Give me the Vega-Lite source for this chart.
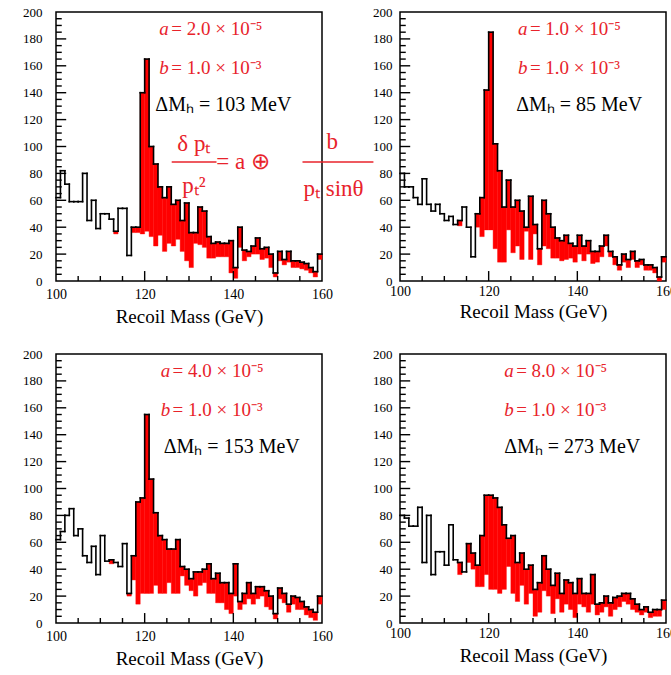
{
"$schema":"https://vega.github.io/schema/vega-lite/v6.json",
"background":"white",
"padding":{"left":21,"top":5,"right":0,"bottom":0},
"bounds":"flush",
"columns":2,
"spacing":{"row":73,"column":78},
"datasets":{
"h":[
{"p":1,"lo":100,"hi":101,"t":62,"b":62},{"p":1,"lo":101,"hi":102,"t":82,"b":82},{"p":1,"lo":102,"hi":103,"t":72,"b":72},{"p":1,"lo":103,"hi":104,"t":59,"b":59},{"p":1,"lo":104,"hi":105,"t":59,"b":59},{"p":1,"lo":105,"hi":106,"t":59,"b":59},{"p":1,"lo":106,"hi":107,"t":80,"b":80},{"p":1,"lo":107,"hi":108,"t":45,"b":45},{"p":1,"lo":108,"hi":109,"t":60,"b":60},{"p":1,"lo":109,"hi":110,"t":39,"b":39},
{"p":1,"lo":110,"hi":111,"t":50,"b":50},{"p":1,"lo":111,"hi":112,"t":50,"b":50},{"p":1,"lo":112,"hi":113,"t":46,"b":46},{"p":1,"lo":113,"hi":114,"t":37,"b":35},{"p":1,"lo":114,"hi":115,"t":54,"b":54},{"p":1,"lo":115,"hi":116,"t":54,"b":54},{"p":1,"lo":116,"hi":117,"t":19,"b":19},{"p":1,"lo":117,"hi":118,"t":40,"b":36},{"p":1,"lo":118,"hi":119,"t":40,"b":36},{"p":1,"lo":119,"hi":120,"t":140,"b":35},
{"p":1,"lo":120,"hi":121,"t":165,"b":37},{"p":1,"lo":121,"hi":122,"t":100,"b":33},{"p":1,"lo":122,"hi":123,"t":87,"b":26},{"p":1,"lo":123,"hi":124,"t":70,"b":34},{"p":1,"lo":124,"hi":125,"t":62,"b":22},{"p":1,"lo":125,"hi":126,"t":70,"b":28},{"p":1,"lo":126,"hi":127,"t":57,"b":26},{"p":1,"lo":127,"hi":128,"t":60,"b":31},{"p":1,"lo":128,"hi":129,"t":45,"b":22},{"p":1,"lo":129,"hi":130,"t":58,"b":15},
{"p":1,"lo":130,"hi":131,"t":36,"b":10},{"p":1,"lo":131,"hi":132,"t":36,"b":28},{"p":1,"lo":132,"hi":133,"t":55,"b":27},{"p":1,"lo":133,"hi":134,"t":52,"b":25},{"p":1,"lo":134,"hi":135,"t":33,"b":17},{"p":1,"lo":135,"hi":136,"t":28,"b":17},{"p":1,"lo":136,"hi":137,"t":29,"b":18},{"p":1,"lo":137,"hi":138,"t":28,"b":18},{"p":1,"lo":138,"hi":139,"t":28,"b":18},{"p":1,"lo":139,"hi":140,"t":30,"b":6},
{"p":1,"lo":140,"hi":141,"t":10,"b":2},{"p":1,"lo":141,"hi":142,"t":40,"b":25},{"p":1,"lo":142,"hi":143,"t":23,"b":15},{"p":1,"lo":143,"hi":144,"t":22,"b":18},{"p":1,"lo":144,"hi":145,"t":26,"b":20},{"p":1,"lo":145,"hi":146,"t":32,"b":20},{"p":1,"lo":146,"hi":147,"t":24,"b":16},{"p":1,"lo":147,"hi":148,"t":25,"b":17},{"p":1,"lo":148,"hi":149,"t":20,"b":10},{"p":1,"lo":149,"hi":150,"t":6,"b":3},
{"p":1,"lo":150,"hi":151,"t":22,"b":15},{"p":1,"lo":151,"hi":152,"t":16,"b":12},{"p":1,"lo":152,"hi":153,"t":22,"b":14},{"p":1,"lo":153,"hi":154,"t":15,"b":10},{"p":1,"lo":154,"hi":155,"t":15,"b":10},{"p":1,"lo":155,"hi":156,"t":14,"b":9},{"p":1,"lo":156,"hi":157,"t":13,"b":8},{"p":1,"lo":157,"hi":158,"t":10,"b":6},{"p":1,"lo":158,"hi":159,"t":7,"b":3},{"p":1,"lo":159,"hi":160,"t":20,"b":16},

{"p":2,"lo":100,"hi":101,"t":80,"b":80},{"p":2,"lo":101,"hi":102,"t":70,"b":70},{"p":2,"lo":102,"hi":103,"t":70,"b":70},{"p":2,"lo":103,"hi":104,"t":62,"b":62},{"p":2,"lo":104,"hi":105,"t":57,"b":57},{"p":2,"lo":105,"hi":106,"t":76,"b":76},{"p":2,"lo":106,"hi":107,"t":57,"b":57},{"p":2,"lo":107,"hi":108,"t":52,"b":52},{"p":2,"lo":108,"hi":109,"t":57,"b":57},{"p":2,"lo":109,"hi":110,"t":50,"b":50},
{"p":2,"lo":110,"hi":111,"t":45,"b":45},{"p":2,"lo":111,"hi":112,"t":48,"b":48},{"p":2,"lo":112,"hi":113,"t":42,"b":42},{"p":2,"lo":113,"hi":114,"t":45,"b":41},{"p":2,"lo":114,"hi":115,"t":55,"b":55},{"p":2,"lo":115,"hi":116,"t":40,"b":40},{"p":2,"lo":116,"hi":117,"t":18,"b":18},{"p":2,"lo":117,"hi":118,"t":50,"b":40},{"p":2,"lo":118,"hi":119,"t":62,"b":33},{"p":2,"lo":119,"hi":120,"t":142,"b":38},
{"p":2,"lo":120,"hi":121,"t":185,"b":38},{"p":2,"lo":121,"hi":122,"t":102,"b":24},{"p":2,"lo":122,"hi":123,"t":82,"b":14},{"p":2,"lo":123,"hi":124,"t":55,"b":14},{"p":2,"lo":124,"hi":125,"t":75,"b":38},{"p":2,"lo":125,"hi":126,"t":55,"b":21},{"p":2,"lo":126,"hi":127,"t":60,"b":26},{"p":2,"lo":127,"hi":128,"t":52,"b":16},{"p":2,"lo":128,"hi":129,"t":40,"b":37},{"p":2,"lo":129,"hi":130,"t":63,"b":16},
{"p":2,"lo":130,"hi":131,"t":42,"b":35},{"p":2,"lo":131,"hi":132,"t":24,"b":12},{"p":2,"lo":132,"hi":133,"t":60,"b":26},{"p":2,"lo":133,"hi":134,"t":50,"b":24},{"p":2,"lo":134,"hi":135,"t":40,"b":17},{"p":2,"lo":135,"hi":136,"t":32,"b":17},{"p":2,"lo":136,"hi":137,"t":30,"b":15},{"p":2,"lo":137,"hi":138,"t":34,"b":16},{"p":2,"lo":138,"hi":139,"t":28,"b":17},{"p":2,"lo":139,"hi":140,"t":26,"b":14},
{"p":2,"lo":140,"hi":141,"t":34,"b":20},{"p":2,"lo":141,"hi":142,"t":26,"b":15},{"p":2,"lo":142,"hi":143,"t":30,"b":20},{"p":2,"lo":143,"hi":144,"t":22,"b":13},{"p":2,"lo":144,"hi":145,"t":22,"b":14},{"p":2,"lo":145,"hi":146,"t":26,"b":18},{"p":2,"lo":146,"hi":147,"t":34,"b":26},{"p":2,"lo":147,"hi":148,"t":22,"b":18},{"p":2,"lo":148,"hi":149,"t":18,"b":12},{"p":2,"lo":149,"hi":150,"t":12,"b":8},
{"p":2,"lo":150,"hi":151,"t":20,"b":14},{"p":2,"lo":151,"hi":152,"t":16,"b":10},{"p":2,"lo":152,"hi":153,"t":22,"b":16},{"p":2,"lo":153,"hi":154,"t":15,"b":10},{"p":2,"lo":154,"hi":155,"t":16,"b":12},{"p":2,"lo":155,"hi":156,"t":12,"b":8},{"p":2,"lo":156,"hi":157,"t":12,"b":8},{"p":2,"lo":157,"hi":158,"t":10,"b":6},{"p":2,"lo":158,"hi":159,"t":3,"b":0},{"p":2,"lo":159,"hi":160,"t":18,"b":14},

{"p":3,"lo":100,"hi":101,"t":62,"b":62},{"p":3,"lo":101,"hi":102,"t":68,"b":68},{"p":3,"lo":102,"hi":103,"t":80,"b":80},{"p":3,"lo":103,"hi":104,"t":85,"b":85},{"p":3,"lo":104,"hi":105,"t":65,"b":65},{"p":3,"lo":105,"hi":106,"t":70,"b":70},{"p":3,"lo":106,"hi":107,"t":50,"b":50},{"p":3,"lo":107,"hi":108,"t":45,"b":45},{"p":3,"lo":108,"hi":109,"t":57,"b":57},{"p":3,"lo":109,"hi":110,"t":36,"b":36},
{"p":3,"lo":110,"hi":111,"t":65,"b":65},{"p":3,"lo":111,"hi":112,"t":46,"b":46},{"p":3,"lo":112,"hi":113,"t":47,"b":44},{"p":3,"lo":113,"hi":114,"t":45,"b":45},{"p":3,"lo":114,"hi":115,"t":42,"b":42},{"p":3,"lo":115,"hi":116,"t":59,"b":59},{"p":3,"lo":116,"hi":117,"t":22,"b":20},{"p":3,"lo":117,"hi":118,"t":50,"b":32},{"p":3,"lo":118,"hi":119,"t":90,"b":14},{"p":3,"lo":119,"hi":120,"t":93,"b":22},
{"p":3,"lo":120,"hi":121,"t":155,"b":22},{"p":3,"lo":121,"hi":122,"t":107,"b":22},{"p":3,"lo":122,"hi":123,"t":82,"b":28},{"p":3,"lo":123,"hi":124,"t":65,"b":22},{"p":3,"lo":124,"hi":125,"t":62,"b":22},{"p":3,"lo":125,"hi":126,"t":55,"b":30},{"p":3,"lo":126,"hi":127,"t":55,"b":22},{"p":3,"lo":127,"hi":128,"t":62,"b":22},{"p":3,"lo":128,"hi":129,"t":42,"b":35},{"p":3,"lo":129,"hi":130,"t":40,"b":28},
{"p":3,"lo":130,"hi":131,"t":33,"b":24},{"p":3,"lo":131,"hi":132,"t":38,"b":20},{"p":3,"lo":132,"hi":133,"t":38,"b":28},{"p":3,"lo":133,"hi":134,"t":40,"b":30},{"p":3,"lo":134,"hi":135,"t":44,"b":22},{"p":3,"lo":135,"hi":136,"t":33,"b":22},{"p":3,"lo":136,"hi":137,"t":37,"b":15},{"p":3,"lo":137,"hi":138,"t":30,"b":15},{"p":3,"lo":138,"hi":139,"t":30,"b":10},{"p":3,"lo":139,"hi":140,"t":22,"b":7},
{"p":3,"lo":140,"hi":141,"t":44,"b":20},{"p":3,"lo":141,"hi":142,"t":16,"b":10},{"p":3,"lo":142,"hi":143,"t":22,"b":14},{"p":3,"lo":143,"hi":144,"t":30,"b":18},{"p":3,"lo":144,"hi":145,"t":22,"b":14},{"p":3,"lo":145,"hi":146,"t":27,"b":18},{"p":3,"lo":146,"hi":147,"t":27,"b":20},{"p":3,"lo":147,"hi":148,"t":24,"b":12},{"p":3,"lo":148,"hi":149,"t":20,"b":10},{"p":3,"lo":149,"hi":150,"t":7,"b":3},
{"p":3,"lo":150,"hi":151,"t":26,"b":18},{"p":3,"lo":151,"hi":152,"t":22,"b":15},{"p":3,"lo":152,"hi":153,"t":14,"b":8},{"p":3,"lo":153,"hi":154,"t":20,"b":14},{"p":3,"lo":154,"hi":155,"t":19,"b":10},{"p":3,"lo":155,"hi":156,"t":16,"b":10},{"p":3,"lo":156,"hi":157,"t":12,"b":6},{"p":3,"lo":157,"hi":158,"t":10,"b":4},{"p":3,"lo":158,"hi":159,"t":8,"b":2},{"p":3,"lo":159,"hi":160,"t":20,"b":14},

{"p":4,"lo":100,"hi":101,"t":80,"b":80},{"p":4,"lo":101,"hi":102,"t":78,"b":78},{"p":4,"lo":102,"hi":103,"t":72,"b":72},{"p":4,"lo":103,"hi":104,"t":72,"b":72},{"p":4,"lo":104,"hi":105,"t":86,"b":86},{"p":4,"lo":105,"hi":106,"t":45,"b":45},{"p":4,"lo":106,"hi":107,"t":80,"b":80},{"p":4,"lo":107,"hi":108,"t":36,"b":36},{"p":4,"lo":108,"hi":109,"t":53,"b":53},{"p":4,"lo":109,"hi":110,"t":53,"b":53},
{"p":4,"lo":110,"hi":111,"t":43,"b":43},{"p":4,"lo":111,"hi":112,"t":73,"b":73},{"p":4,"lo":112,"hi":113,"t":47,"b":47},{"p":4,"lo":113,"hi":114,"t":45,"b":36},{"p":4,"lo":114,"hi":115,"t":38,"b":38},{"p":4,"lo":115,"hi":116,"t":59,"b":45},{"p":4,"lo":116,"hi":117,"t":52,"b":40},{"p":4,"lo":117,"hi":118,"t":43,"b":27},{"p":4,"lo":118,"hi":119,"t":65,"b":27},{"p":4,"lo":119,"hi":120,"t":95,"b":36},
{"p":4,"lo":120,"hi":121,"t":95,"b":25},{"p":4,"lo":121,"hi":122,"t":93,"b":25},{"p":4,"lo":122,"hi":123,"t":86,"b":22},{"p":4,"lo":123,"hi":124,"t":73,"b":25},{"p":4,"lo":124,"hi":125,"t":63,"b":42},{"p":4,"lo":125,"hi":126,"t":65,"b":22},{"p":4,"lo":126,"hi":127,"t":45,"b":16},{"p":4,"lo":127,"hi":128,"t":52,"b":28},{"p":4,"lo":128,"hi":129,"t":40,"b":14},{"p":4,"lo":129,"hi":130,"t":43,"b":22},
{"p":4,"lo":130,"hi":131,"t":25,"b":5},{"p":4,"lo":131,"hi":132,"t":30,"b":8},{"p":4,"lo":132,"hi":133,"t":50,"b":24},{"p":4,"lo":133,"hi":134,"t":40,"b":20},{"p":4,"lo":134,"hi":135,"t":28,"b":7},{"p":4,"lo":135,"hi":136,"t":37,"b":18},{"p":4,"lo":136,"hi":137,"t":22,"b":8},{"p":4,"lo":137,"hi":138,"t":32,"b":14},{"p":4,"lo":138,"hi":139,"t":30,"b":10},{"p":4,"lo":139,"hi":140,"t":22,"b":4},
{"p":4,"lo":140,"hi":141,"t":33,"b":14},{"p":4,"lo":141,"hi":142,"t":22,"b":12},{"p":4,"lo":142,"hi":143,"t":22,"b":8},{"p":4,"lo":143,"hi":144,"t":36,"b":14},{"p":4,"lo":144,"hi":145,"t":14,"b":6},{"p":4,"lo":145,"hi":146,"t":15,"b":8},{"p":4,"lo":146,"hi":147,"t":20,"b":12},{"p":4,"lo":147,"hi":148,"t":15,"b":5},{"p":4,"lo":148,"hi":149,"t":19,"b":10},{"p":4,"lo":149,"hi":150,"t":20,"b":12},
{"p":4,"lo":150,"hi":151,"t":22,"b":16},{"p":4,"lo":151,"hi":152,"t":22,"b":14},{"p":4,"lo":152,"hi":153,"t":18,"b":10},{"p":4,"lo":153,"hi":154,"t":14,"b":8},{"p":4,"lo":154,"hi":155,"t":10,"b":6},{"p":4,"lo":155,"hi":156,"t":12,"b":8},{"p":4,"lo":156,"hi":157,"t":8,"b":4},{"p":4,"lo":157,"hi":158,"t":10,"b":5},{"p":4,"lo":158,"hi":159,"t":10,"b":5},{"p":4,"lo":159,"hi":160,"t":17,"b":10}
],
"tk":[
{"ax":"x","v":120,"a":0,"e":7.4},{"ax":"x","v":140,"a":0,"e":7.4},
{"ax":"x","v":105,"a":0,"e":3.7},{"ax":"x","v":110,"a":0,"e":3.7},{"ax":"x","v":115,"a":0,"e":3.7},{"ax":"x","v":125,"a":0,"e":3.7},{"ax":"x","v":130,"a":0,"e":3.7},{"ax":"x","v":135,"a":0,"e":3.7},{"ax":"x","v":145,"a":0,"e":3.7},{"ax":"x","v":150,"a":0,"e":3.7},{"ax":"x","v":155,"a":0,"e":3.7},
{"ax":"y","v":20,"a":100,"e":102.3},{"ax":"y","v":40,"a":100,"e":102.3},{"ax":"y","v":60,"a":100,"e":102.3},{"ax":"y","v":80,"a":100,"e":102.3},{"ax":"y","v":100,"a":100,"e":102.3},{"ax":"y","v":120,"a":100,"e":102.3},{"ax":"y","v":140,"a":100,"e":102.3},{"ax":"y","v":160,"a":100,"e":102.3},{"ax":"y","v":180,"a":100,"e":102.3},
{"ax":"y","v":5,"a":100,"e":101.3},{"ax":"y","v":10,"a":100,"e":101.3},{"ax":"y","v":15,"a":100,"e":101.3},{"ax":"y","v":25,"a":100,"e":101.3},{"ax":"y","v":30,"a":100,"e":101.3},{"ax":"y","v":35,"a":100,"e":101.3},{"ax":"y","v":45,"a":100,"e":101.3},{"ax":"y","v":50,"a":100,"e":101.3},{"ax":"y","v":55,"a":100,"e":101.3},{"ax":"y","v":65,"a":100,"e":101.3},{"ax":"y","v":70,"a":100,"e":101.3},{"ax":"y","v":75,"a":100,"e":101.3},{"ax":"y","v":85,"a":100,"e":101.3},{"ax":"y","v":90,"a":100,"e":101.3},{"ax":"y","v":95,"a":100,"e":101.3},{"ax":"y","v":105,"a":100,"e":101.3},{"ax":"y","v":110,"a":100,"e":101.3},{"ax":"y","v":115,"a":100,"e":101.3},{"ax":"y","v":125,"a":100,"e":101.3},{"ax":"y","v":130,"a":100,"e":101.3},{"ax":"y","v":135,"a":100,"e":101.3},{"ax":"y","v":145,"a":100,"e":101.3},{"ax":"y","v":150,"a":100,"e":101.3},{"ax":"y","v":155,"a":100,"e":101.3},{"ax":"y","v":165,"a":100,"e":101.3},{"ax":"y","v":170,"a":100,"e":101.3},{"ax":"y","v":175,"a":100,"e":101.3},{"ax":"y","v":185,"a":100,"e":101.3},{"ax":"y","v":190,"a":100,"e":101.3},{"ax":"y","v":195,"a":100,"e":101.3}
],
"lab":[
{"p":1,"k":"v","x":123.3,"y":187,"s":"a"},{"p":1,"k":"n","x":126.0,"y":187,"s":"= 2.0 × 10⁻⁵"},{"p":1,"k":"v","x":123.3,"y":158,"s":"b"},{"p":1,"k":"n","x":126.0,"y":158,"s":"= 1.0 × 10⁻³"},{"p":1,"k":"d","x":122.4,"y":131,"s":"ΔMₕ = 103 MeV"},
{"p":1,"k":"f","x":131.1,"y":101.9,"s":"δ pₜ"},{"p":1,"k":"f","x":131.1,"y":70.6,"s":"pₜ²"},{"p":1,"k":"f","x":142.2,"y":88.5,"s":"= a ⊕"},{"p":1,"k":"f","x":162.3,"y":103.3,"s":"b"},{"p":1,"k":"f","x":162.6,"y":68.4,"s":"pₜ sinθ"},
{"p":2,"k":"v","x":126.6,"y":187,"s":"a"},{"p":2,"k":"n","x":129.3,"y":187,"s":"= 1.0 × 10⁻⁵"},{"p":2,"k":"v","x":126.6,"y":158,"s":"b"},{"p":2,"k":"n","x":129.3,"y":158,"s":"= 1.0 × 10⁻³"},{"p":2,"k":"d","x":126.2,"y":131,"s":"ΔMₕ = 85 MeV"},
{"p":3,"k":"v","x":123.6,"y":187,"s":"a"},{"p":3,"k":"n","x":126.3,"y":187,"s":"= 4.0 × 10⁻⁵"},{"p":3,"k":"v","x":123.6,"y":158,"s":"b"},{"p":3,"k":"n","x":126.3,"y":158,"s":"= 1.0 × 10⁻³"},{"p":3,"k":"d","x":124.3,"y":131,"s":"ΔMₕ = 153 MeV"},
{"p":4,"k":"v","x":123.5,"y":187,"s":"a"},{"p":4,"k":"n","x":126.2,"y":187,"s":"= 8.0 × 10⁻⁵"},{"p":4,"k":"v","x":123.5,"y":158,"s":"b"},{"p":4,"k":"n","x":126.2,"y":158,"s":"= 1.0 × 10⁻³"},{"p":4,"k":"d","x":123.5,"y":131,"s":"ΔMₕ = 273 MeV"}
],
"fr":[{"p":1,"x":126.1,"x2":136.2,"y":88.5},{"p":1,"x":155.6,"x2":171.6,"y":88.5}]
},
"concat":[
{"width":266,"height":269,"resolve":{"axis":{"x":"independent","y":"independent"}},"layer":[
{"data":{"name":"h"},"transform":[{"filter":"datum.p==1 && datum.t>datum.b"}],"mark":{"type":"bar","color":"#ff0000","stroke":"#ff0000","strokeWidth":0.4},
"encoding":{"x":{"field":"lo","type":"quantitative","scale":{"domain":[100,160],"nice":false,"zero":false},"axis":{"orient":"bottom","values":[100,120,140,160],"labelPadding":6,"labelFontSize":14,"title":"Recoil Mass (GeV)","titlePadding":6}},"x2":{"field":"hi"},
"y":{"field":"b","type":"quantitative","scale":{"domain":[0,200],"nice":false},"axis":{"orient":"left","values":[0,20,40,60,80,100,120,140,160,180,200],"labelPadding":14,"labelFontSize":13,"title":null}},"y2":{"field":"t"}}},
{"data":{"name":"h"},"transform":[{"filter":"datum.p==1"}],"mark":{"type":"rule","color":"black","strokeWidth":1.6,"strokeCap":"square"},
"encoding":{"x":{"field":"lo","type":"quantitative","axis":null},"x2":{"field":"hi"},"y":{"field":"t","type":"quantitative","axis":null}}},
{"data":{"name":"h"},"transform":[{"filter":"datum.p==1"},{"window":[{"op":"lead","field":"t","as":"nt"}],"sort":[{"field":"lo","order":"ascending"}]},{"filter":"isValid(datum.nt)"}],"mark":{"type":"rule","color":"black","strokeWidth":1.6,"strokeCap":"square"},
"encoding":{"x":{"field":"hi","type":"quantitative","axis":null},"y":{"field":"t","type":"quantitative","axis":null},"y2":{"field":"nt"}}},
{"data":{"name":"tk"},"transform":[{"filter":"datum.ax=='x'"}],"mark":{"type":"rule","color":"black","strokeWidth":1.4},"encoding":{"x":{"field":"v","type":"quantitative","axis":null},"y":{"field":"a","type":"quantitative","axis":null},"y2":{"field":"e"}}},
{"data":{"name":"tk"},"transform":[{"filter":"datum.ax=='y'"}],"mark":{"type":"rule","color":"black","strokeWidth":1.4},"encoding":{"y":{"field":"v","type":"quantitative","axis":null},"x":{"field":"a","type":"quantitative","axis":null},"x2":{"field":"e"}}},
{"data":{"name":"lab"},"transform":[{"filter":"datum.p==1 && datum.k=='v'"}],"mark":{"type":"text","align":"left","baseline":"middle","font":"Liberation Serif","fontSize":19,"fontStyle":"italic","color":"#e8232b"},
"encoding":{"x":{"field":"x","type":"quantitative","axis":null},"y":{"field":"y","type":"quantitative","axis":null},"text":{"field":"s"}}},
{"data":{"name":"lab"},"transform":[{"filter":"datum.p==1 && datum.k=='n'"}],"mark":{"type":"text","align":"left","baseline":"middle","font":"Liberation Serif","fontSize":19,"color":"#e8232b"},
"encoding":{"x":{"field":"x","type":"quantitative","axis":null},"y":{"field":"y","type":"quantitative","axis":null},"text":{"field":"s"}}},
{"data":{"name":"lab"},"transform":[{"filter":"datum.p==1 && datum.k=='d'"}],"mark":{"type":"text","align":"left","baseline":"middle","font":"Liberation Serif","fontSize":20,"color":"black"},
"encoding":{"x":{"field":"x","type":"quantitative","axis":null},"y":{"field":"y","type":"quantitative","axis":null},"text":{"field":"s"}}},
{"data":{"name":"lab"},"transform":[{"filter":"datum.p==1 && datum.k=='f'"}],"mark":{"type":"text","align":"center","baseline":"middle","font":"Liberation Serif","fontSize":23,"color":"#e8232b"},
"encoding":{"x":{"field":"x","type":"quantitative","axis":null},"y":{"field":"y","type":"quantitative","axis":null},"text":{"field":"s"}}},
{"data":{"name":"fr"},"mark":{"type":"rule","color":"#e8232b","strokeWidth":1.5},
"encoding":{"x":{"field":"x","type":"quantitative","axis":null},"x2":{"field":"x2"},"y":{"field":"y","type":"quantitative","axis":null}}}
]},
{"width":266,"height":269,"resolve":{"axis":{"x":"independent","y":"independent"}},"layer":[
{"data":{"name":"h"},"transform":[{"filter":"datum.p==2 && datum.t>datum.b"}],"mark":{"type":"bar","color":"#ff0000","stroke":"#ff0000","strokeWidth":0.4},
"encoding":{"x":{"field":"lo","type":"quantitative","scale":{"domain":[100,160],"nice":false,"zero":false},"axis":{"orient":"bottom","values":[100,120,140,160],"labelPadding":3,"labelFontSize":14,"title":"Recoil Mass (GeV)","titlePadding":4}},"x2":{"field":"hi"},
"y":{"field":"b","type":"quantitative","scale":{"domain":[0,200],"nice":false},"axis":{"orient":"left","values":[0,20,40,60,80,100,120,140,160,180,200],"labelPadding":8,"labelFontSize":13,"title":null}},"y2":{"field":"t"}}},
{"data":{"name":"h"},"transform":[{"filter":"datum.p==2"}],"mark":{"type":"rule","color":"black","strokeWidth":1.6,"strokeCap":"square"},
"encoding":{"x":{"field":"lo","type":"quantitative","axis":null},"x2":{"field":"hi"},"y":{"field":"t","type":"quantitative","axis":null}}},
{"data":{"name":"h"},"transform":[{"filter":"datum.p==2"},{"window":[{"op":"lead","field":"t","as":"nt"}],"sort":[{"field":"lo","order":"ascending"}]},{"filter":"isValid(datum.nt)"}],"mark":{"type":"rule","color":"black","strokeWidth":1.6,"strokeCap":"square"},
"encoding":{"x":{"field":"hi","type":"quantitative","axis":null},"y":{"field":"t","type":"quantitative","axis":null},"y2":{"field":"nt"}}},
{"data":{"name":"tk"},"transform":[{"filter":"datum.ax=='x'"}],"mark":{"type":"rule","color":"black","strokeWidth":1.4},"encoding":{"x":{"field":"v","type":"quantitative","axis":null},"y":{"field":"a","type":"quantitative","axis":null},"y2":{"field":"e"}}},
{"data":{"name":"tk"},"transform":[{"filter":"datum.ax=='y'"}],"mark":{"type":"rule","color":"black","strokeWidth":1.4},"encoding":{"y":{"field":"v","type":"quantitative","axis":null},"x":{"field":"a","type":"quantitative","axis":null},"x2":{"field":"e"}}},
{"data":{"name":"lab"},"transform":[{"filter":"datum.p==2 && datum.k=='v'"}],"mark":{"type":"text","align":"left","baseline":"middle","font":"Liberation Serif","fontSize":19,"fontStyle":"italic","color":"#e8232b"},
"encoding":{"x":{"field":"x","type":"quantitative","axis":null},"y":{"field":"y","type":"quantitative","axis":null},"text":{"field":"s"}}},
{"data":{"name":"lab"},"transform":[{"filter":"datum.p==2 && datum.k=='n'"}],"mark":{"type":"text","align":"left","baseline":"middle","font":"Liberation Serif","fontSize":19,"color":"#e8232b"},
"encoding":{"x":{"field":"x","type":"quantitative","axis":null},"y":{"field":"y","type":"quantitative","axis":null},"text":{"field":"s"}}},
{"data":{"name":"lab"},"transform":[{"filter":"datum.p==2 && datum.k=='d'"}],"mark":{"type":"text","align":"left","baseline":"middle","font":"Liberation Serif","fontSize":20,"color":"black"},
"encoding":{"x":{"field":"x","type":"quantitative","axis":null},"y":{"field":"y","type":"quantitative","axis":null},"text":{"field":"s"}}}
]},
{"width":266,"height":269,"resolve":{"axis":{"x":"independent","y":"independent"}},"layer":[
{"data":{"name":"h"},"transform":[{"filter":"datum.p==3 && datum.t>datum.b"}],"mark":{"type":"bar","color":"#ff0000","stroke":"#ff0000","strokeWidth":0.4},
"encoding":{"x":{"field":"lo","type":"quantitative","scale":{"domain":[100,160],"nice":false,"zero":false},"axis":{"orient":"bottom","values":[100,120,140,160],"labelPadding":6,"labelFontSize":14,"title":"Recoil Mass (GeV)","titlePadding":6}},"x2":{"field":"hi"},
"y":{"field":"b","type":"quantitative","scale":{"domain":[0,200],"nice":false},"axis":{"orient":"left","values":[0,20,40,60,80,100,120,140,160,180,200],"labelPadding":14,"labelFontSize":13,"title":null}},"y2":{"field":"t"}}},
{"data":{"name":"h"},"transform":[{"filter":"datum.p==3"}],"mark":{"type":"rule","color":"black","strokeWidth":1.6,"strokeCap":"square"},
"encoding":{"x":{"field":"lo","type":"quantitative","axis":null},"x2":{"field":"hi"},"y":{"field":"t","type":"quantitative","axis":null}}},
{"data":{"name":"h"},"transform":[{"filter":"datum.p==3"},{"window":[{"op":"lead","field":"t","as":"nt"}],"sort":[{"field":"lo","order":"ascending"}]},{"filter":"isValid(datum.nt)"}],"mark":{"type":"rule","color":"black","strokeWidth":1.6,"strokeCap":"square"},
"encoding":{"x":{"field":"hi","type":"quantitative","axis":null},"y":{"field":"t","type":"quantitative","axis":null},"y2":{"field":"nt"}}},
{"data":{"name":"tk"},"transform":[{"filter":"datum.ax=='x'"}],"mark":{"type":"rule","color":"black","strokeWidth":1.4},"encoding":{"x":{"field":"v","type":"quantitative","axis":null},"y":{"field":"a","type":"quantitative","axis":null},"y2":{"field":"e"}}},
{"data":{"name":"tk"},"transform":[{"filter":"datum.ax=='y'"}],"mark":{"type":"rule","color":"black","strokeWidth":1.4},"encoding":{"y":{"field":"v","type":"quantitative","axis":null},"x":{"field":"a","type":"quantitative","axis":null},"x2":{"field":"e"}}},
{"data":{"name":"lab"},"transform":[{"filter":"datum.p==3 && datum.k=='v'"}],"mark":{"type":"text","align":"left","baseline":"middle","font":"Liberation Serif","fontSize":19,"fontStyle":"italic","color":"#e8232b"},
"encoding":{"x":{"field":"x","type":"quantitative","axis":null},"y":{"field":"y","type":"quantitative","axis":null},"text":{"field":"s"}}},
{"data":{"name":"lab"},"transform":[{"filter":"datum.p==3 && datum.k=='n'"}],"mark":{"type":"text","align":"left","baseline":"middle","font":"Liberation Serif","fontSize":19,"color":"#e8232b"},
"encoding":{"x":{"field":"x","type":"quantitative","axis":null},"y":{"field":"y","type":"quantitative","axis":null},"text":{"field":"s"}}},
{"data":{"name":"lab"},"transform":[{"filter":"datum.p==3 && datum.k=='d'"}],"mark":{"type":"text","align":"left","baseline":"middle","font":"Liberation Serif","fontSize":20,"color":"black"},
"encoding":{"x":{"field":"x","type":"quantitative","axis":null},"y":{"field":"y","type":"quantitative","axis":null},"text":{"field":"s"}}}
]},
{"width":266,"height":269,"resolve":{"axis":{"x":"independent","y":"independent"}},"layer":[
{"data":{"name":"h"},"transform":[{"filter":"datum.p==4 && datum.t>datum.b"}],"mark":{"type":"bar","color":"#ff0000","stroke":"#ff0000","strokeWidth":0.4},
"encoding":{"x":{"field":"lo","type":"quantitative","scale":{"domain":[100,160],"nice":false,"zero":false},"axis":{"orient":"bottom","values":[100,120,140,160],"labelPadding":3,"labelFontSize":14,"title":"Recoil Mass (GeV)","titlePadding":6}},"x2":{"field":"hi"},
"y":{"field":"b","type":"quantitative","scale":{"domain":[0,200],"nice":false},"axis":{"orient":"left","values":[0,20,40,60,80,100,120,140,160,180,200],"labelPadding":8,"labelFontSize":13,"title":null}},"y2":{"field":"t"}}},
{"data":{"name":"h"},"transform":[{"filter":"datum.p==4"}],"mark":{"type":"rule","color":"black","strokeWidth":1.6,"strokeCap":"square"},
"encoding":{"x":{"field":"lo","type":"quantitative","axis":null},"x2":{"field":"hi"},"y":{"field":"t","type":"quantitative","axis":null}}},
{"data":{"name":"h"},"transform":[{"filter":"datum.p==4"},{"window":[{"op":"lead","field":"t","as":"nt"}],"sort":[{"field":"lo","order":"ascending"}]},{"filter":"isValid(datum.nt)"}],"mark":{"type":"rule","color":"black","strokeWidth":1.6,"strokeCap":"square"},
"encoding":{"x":{"field":"hi","type":"quantitative","axis":null},"y":{"field":"t","type":"quantitative","axis":null},"y2":{"field":"nt"}}},
{"data":{"name":"tk"},"transform":[{"filter":"datum.ax=='x'"}],"mark":{"type":"rule","color":"black","strokeWidth":1.4},"encoding":{"x":{"field":"v","type":"quantitative","axis":null},"y":{"field":"a","type":"quantitative","axis":null},"y2":{"field":"e"}}},
{"data":{"name":"tk"},"transform":[{"filter":"datum.ax=='y'"}],"mark":{"type":"rule","color":"black","strokeWidth":1.4},"encoding":{"y":{"field":"v","type":"quantitative","axis":null},"x":{"field":"a","type":"quantitative","axis":null},"x2":{"field":"e"}}},
{"data":{"name":"lab"},"transform":[{"filter":"datum.p==4 && datum.k=='v'"}],"mark":{"type":"text","align":"left","baseline":"middle","font":"Liberation Serif","fontSize":19,"fontStyle":"italic","color":"#e8232b"},
"encoding":{"x":{"field":"x","type":"quantitative","axis":null},"y":{"field":"y","type":"quantitative","axis":null},"text":{"field":"s"}}},
{"data":{"name":"lab"},"transform":[{"filter":"datum.p==4 && datum.k=='n'"}],"mark":{"type":"text","align":"left","baseline":"middle","font":"Liberation Serif","fontSize":19,"color":"#e8232b"},
"encoding":{"x":{"field":"x","type":"quantitative","axis":null},"y":{"field":"y","type":"quantitative","axis":null},"text":{"field":"s"}}},
{"data":{"name":"lab"},"transform":[{"filter":"datum.p==4 && datum.k=='d'"}],"mark":{"type":"text","align":"left","baseline":"middle","font":"Liberation Serif","fontSize":20,"color":"black"},
"encoding":{"x":{"field":"x","type":"quantitative","axis":null},"y":{"field":"y","type":"quantitative","axis":null},"text":{"field":"s"}}}
]}
],
"config":{
"view":{"stroke":"black","strokeWidth":1.5},
"axis":{"labelFont":"Liberation Serif","labelColor":"black","labelFlush":false,"labelOverlap":false,"ticks":false,"tickSize":0,"titleFont":"Liberation Serif","titleFontSize":19,"titleFontWeight":"normal","titleColor":"black","domain":false,"grid":false}
}
}
